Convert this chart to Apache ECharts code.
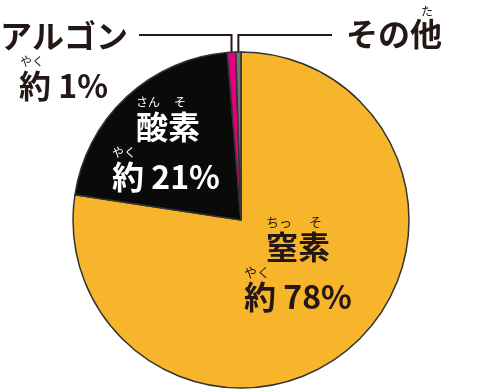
<!DOCTYPE html>
<html><head><meta charset="utf-8">
<script src="https://cdn.jsdelivr.net/npm/echarts@6/dist/echarts.min.js"></script>
<style>html,body{margin:0;padding:0;background:#fff}#c{width:484px;height:391px}</style>
</head><body><div id="c"></div>
<script>
// ---- data ----
const names = ['窒素', '酸素', 'アルゴン', 'その他'];
const values = [77.4, 21.3, 0.8, 0.5];
const valueLabels = ['約 78%', '約 21%', '約 1%', ''];
const nameRuby = [['ちっ', 'そ'], ['さん', 'そ'], [], ['た']];
const valueRuby = ['やく', 'やく', 'やく', ''];
const colors = ['#F7B52C', '#0A0A0A', '#E4007F', '#737373'];

// ---- layout / style ----
const CX = 241, CY = 220, R = 168;
const FONT = '"Noto Sans CJK JP", "Noto Sans CJK SC", sans-serif';
const INK = '#231815';
const LINE_Y = 35;

const total = values.reduce((a, b) => a + b, 0);
function midPoint(i) {
  let cum = 0;
  for (let k = 0; k < i; k++) cum += values[k];
  const th = (cum + values[i] / 2) / total * Math.PI * 2;
  return [CX + R * Math.sin(th), CY - R * Math.cos(th)];
}

const big = (c, pad) => ({ fontFamily: FONT, fontSize: 32, fontWeight: 'bold', lineHeight: 34, color: c, padding: [0, 0, 0, pad || 0] });
const rb = (c, pad, fs, lh) => ({ fontFamily: FONT, fontSize: fs || 12, lineHeight: lh || 16, color: c, padding: [0, 0, 0, pad || 0] });

const formatters = [
  `{a|${nameRuby[0][0]}}{b|${nameRuby[0][1]}}\n{m|${names[0]}}\n{r|${valueRuby[0]}}\n{v|${valueLabels[0]}}`,
  `{a|${nameRuby[1][0]}}{b|${nameRuby[1][1]}}\n{m|${names[1]}}\n{r|${valueRuby[1]}}\n{v|${valueLabels[1]}}`,
  `{m|${names[2]}}\n{r|${valueRuby[2]}}\n{v|${valueLabels[2]}}`,
  `{r|${nameRuby[3][0]}}\n{m|${names[3]}}`
];
const richs = [
  { a: rb(INK, 22, 13), b: rb(INK, 17, 13), m: big(INK, 22), r: rb(INK, 0, 13), v: big(INK, 0) },
  { a: rb('#fff', 24), b: rb('#fff', 14), m: big('#fff', 24), r: rb('#fff', 0), v: big('#fff', 0) },
  { m: big(INK, 0), r: rb(INK, 20), v: big(INK, 19) },
  { r: rb(INK, 75, 12, 12), m: big(INK, 0) }
];
const labelPos = [[244, 214], [112, 94], [0, 19], [346, 5]];
const lineEnds = [null, null, 139, 332];

const data = names.map((n, i) => {
  const outside = i >= 2;
  return {
    name: n,
    value: values[i],
    itemStyle: { color: colors[i] },
    label: {
      show: true,
      position: outside ? 'outside' : 'inside',
      formatter: formatters[i],
      rich: richs[i],
      align: 'left'
    },
    labelLine: {
      show: outside,
      length: 10, length2: 20, smooth: false,
      lineStyle: { color: INK, width: 2 }
    }
  };
});

const chart = echarts.init(document.getElementById('c'), null, { renderer: 'canvas' });
chart.setOption({
  animation: false,
  series: [{
    type: 'pie',
    center: [CX, CY],
    radius: R,
    startAngle: 90,
    clockwise: true,
    avoidLabelOverlap: false,
    silent: true,
    itemStyle: { borderColor: '#333', borderWidth: 1.5 },
    data: data,
    labelLayout: function (p) {
      const i = p.dataIndex;
      const out = { x: labelPos[i][0], y: labelPos[i][1], align: 'left', verticalAlign: 'top' };
      if (lineEnds[i] != null) {
        const s = midPoint(i);
        out.labelLinePoints = [s, [s[0], LINE_Y], [lineEnds[i], LINE_Y]];
      }
      return out;
    }
  }]
});
</script></body></html>
